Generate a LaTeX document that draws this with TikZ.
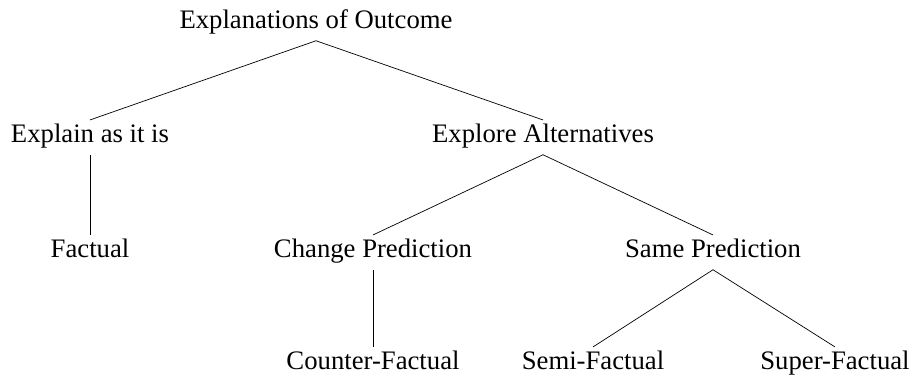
\documentclass[tikz,border=0pt]{standalone}
\usepackage{fontspec}
\setmainfont{Liberation Serif}

\begin{document}
\begin{tikzpicture}[treenode/.style={anchor=base, inner xsep=0pt, inner ysep=0.16cm,
    text height=0.78em, text depth=0.25em, font=\fontsize{15.2}{18}\selectfont}]

    \useasboundingbox (0,0) rectangle (18.24,-7.5);

    % tree levels
    \node[treenode] (root) at (6.32,-0.56) {Explanations of Outcome};
    \node[treenode] (explain) at (1.80,-2.84) {Explain as it is};
    \node[treenode] (explore) at (10.86,-2.84) {Explore Alternatives};
    \node[treenode] (factual) at (1.80,-5.14) {Factual};
    \node[treenode] (change) at (7.46,-5.14) {Change Prediction};
    \node[treenode] (same) at (14.26,-5.14) {Same Prediction};
    \node[treenode] (counter) at (7.46,-7.38) {Counter-Factual};
    \node[treenode] (semi) at (11.86,-7.38) {Semi-Factual};
    \node[treenode] (super) at (16.70,-7.38) {Super-Factual};

    % draw edges
    \draw (root.south) -- (explain.north);
    \draw (root.south) -- (explore.north);
    \draw (explain.south) -- (factual.north);
    \draw (explore.south) -- (change.north);
    \draw (explore.south) -- (same.north);
    \draw (change.south) -- (counter.north);
    \draw (same.south) -- (semi.north);
    \draw (same.south) -- (super.north);
  \end{tikzpicture}
\end{document}
